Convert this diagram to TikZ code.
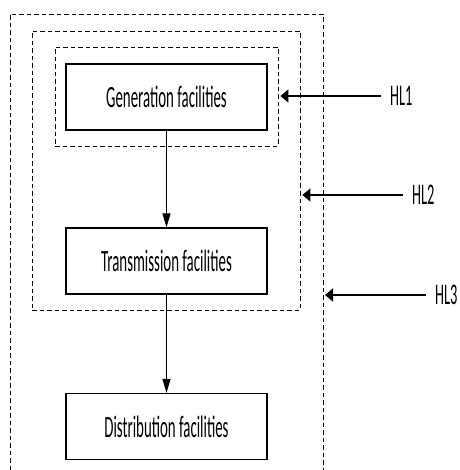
\documentclass[tikz,border=0pt]{standalone}
\usepackage{fontspec}
\setmainfont{Carlito}[FakeStretch=0.48]
\usetikzlibrary{arrows.meta}

\begin{document}
\begin{tikzpicture}[
    x=1pt, y=-1pt,
    facility/.style={draw, line width=1.2pt, minimum width=201pt, minimum height=66pt, inner sep=0pt, align=center, font=\fontsize{31}{33}\selectfont},
    level/.style={draw, dashed, dash pattern=on 4.5pt off 3pt, line width=0.8pt, inner sep=0pt},
    lbl/.style={inner xsep=9pt, inner ysep=1pt, anchor=west, font=\fontsize{30}{32}\selectfont},
    flow/.style={-{Triangle[length=14pt,width=8pt]}, line width=1pt},
    hint/.style={-{Triangle[length=8pt,width=13pt]}, line width=1.5pt}
]
\useasboundingbox (0,0) rectangle (459,470);

% Levels
\node[level, minimum width=223pt, minimum height=99pt] (l1) at (166.5,96.5) {};
\node[level, minimum width=268pt, minimum height=279pt] (l2) at (166,170.5) {};
\coordinate (l3sw) at (10,470);
\coordinate (l3nw) at (10,14);
\coordinate (l3ne) at (323,14);
\coordinate (l3se) at (323,470);
\draw[level] (l3sw) -- (l3nw) -- (l3ne) -- (l3se);

% Facilities
\node[facility] (gen) at (166.5,97) {Generation facilities};
\node[facility] (trans) at (166.5,261) {Transmission facilities};
\node[facility] (dist) at (166.5,426.5) {Distribution facilities};
\draw[flow] (gen) -- (trans);
\draw[flow] (trans) -- (dist);

% Labels
\node[lbl] (hl1) at (381,96) {HL1};
\node[lbl] (hl2) at (403,195) {HL2};
\node[lbl] (hl3) at (426,295) {HL3};
\draw[hint] (hl1.west) -- ([xshift=2pt]hl1.west -| l1.east);
\draw[hint] (hl2.west) -- ([xshift=2pt]hl2.west -| l2.east);
\draw[hint] (hl3.west) -- ([xshift=2pt]hl3.west -| l3ne);

\end{tikzpicture}
\end{document}
